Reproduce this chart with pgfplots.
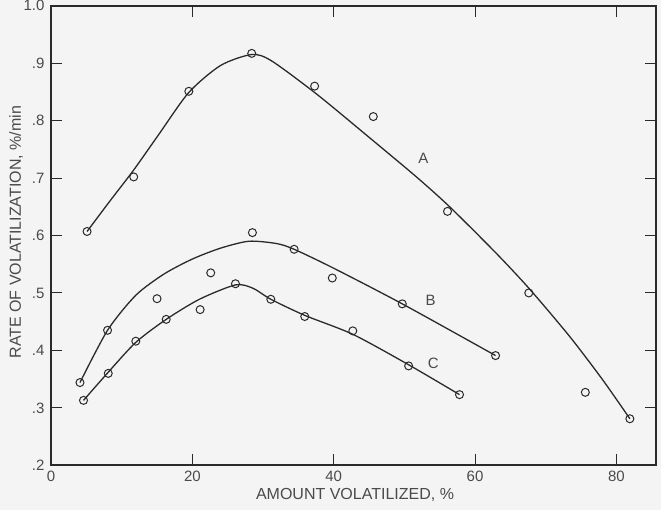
\documentclass[border=0pt]{standalone}
\usepackage{pgfplots}
\pgfplotsset{compat=1.18}
\usepackage{fontspec}
\setmainfont{Liberation Sans}
\usetikzlibrary{backgrounds}
\definecolor{bg}{HTML}{F4F4F4}
\definecolor{ink}{HTML}{2A2A2A}
\definecolor{txt}{HTML}{4A4A4A}
\begin{document}
\begin{tikzpicture}[background rectangle/.style={fill=bg,draw=none}, show background rectangle, inner frame sep=0pt]
\begin{axis}[
  scale only axis, width=605pt, height=459.6pt,
  xmin=0, xmax=85.6, ymin=0.2, ymax=1.0,
  xtick={0,20,40,60,80},
  ytick={0.2,0.3,0.4,0.5,0.6,0.7,0.8,0.9,1.0},
  yticklabels={.2,.3,.4,.5,.6,.7,.8,.9,1.0},
  tick align=inside, major tick length=11pt,
  axis line style={line width=1.8pt, ink},
  tick style={line width=1pt, ink},
  ticklabel style={font=\fontsize{15}{15}\selectfont, text=txt},
  /pgf/number format/assume math mode=true,
  xticklabel style={yshift=-2pt},
  yticklabel style={xshift=-3pt},
  clip=false,
]
% curves
\addplot[smooth, tension=0.45, ink, line width=1.3pt, no marks] coordinates {
 (5.1,0.607) (8.4,0.661) (11.7,0.714) (15.2,0.775) (19.5,0.849) (24,0.896)
 (28.4,0.915) (31.2,0.904) (37.6,0.846) (44.7,0.774) (51.7,0.702) (56.4,0.650)
 (63,0.569) (67.7,0.507) (73.4,0.424) (78.1,0.348) (81.9,0.281)};
\addplot[smooth, tension=0.45, ink, line width=1.3pt, no marks] coordinates {
 (4.1,0.344) (8.0,0.435) (12,0.496) (16,0.533) (20,0.559) (24,0.578) (28,0.590)
 (31.9,0.586) (34.4,0.576) (40,0.543) (49.7,0.481) (62.9,0.391)};
\addplot[smooth, tension=0.45, ink, line width=1.3pt, no marks] coordinates {
 (4.6,0.313) (8.1,0.362) (12,0.414) (16.3,0.454) (21,0.489) (26.1,0.514)
 (28.6,0.508) (31.1,0.489) (35.9,0.461) (42.7,0.428) (50.6,0.375) (57.8,0.323)};
% data points
\addplot[only marks, mark=o, mark size=4pt, ink, mark options={line width=1pt, fill=bg}] coordinates {
 (5.1,0.607) (11.7,0.702) (19.5,0.851) (28.4,0.917) (37.3,0.860) (45.6,0.807)
 (56.1,0.642) (67.6,0.500) (75.6,0.327) (81.9,0.281)};
\addplot[only marks, mark=o, mark size=4pt, ink, mark options={line width=1pt, fill=bg}] coordinates {
 (4.1,0.344) (8.0,0.435) (15.0,0.490) (22.6,0.535) (28.5,0.605) (34.4,0.576)
 (39.8,0.526) (49.7,0.481) (62.9,0.391)};
\addplot[only marks, mark=o, mark size=4pt, ink, mark options={line width=1pt, fill=bg}] coordinates {
 (4.6,0.313) (8.1,0.360) (12.0,0.416) (16.3,0.454) (21.1,0.471) (26.1,0.516)
 (31.1,0.489) (35.9,0.459) (42.7,0.434) (50.6,0.373) (57.8,0.323)};
\node[font=\fontsize{15}{15}\selectfont, text=txt] at (axis cs:52.7,0.735) {A};
\node[font=\fontsize{15}{15}\selectfont, text=txt] at (axis cs:53.7,0.487) {B};
\node[font=\fontsize{15}{15}\selectfont, text=txt] at (axis cs:54.1,0.377) {C};
\end{axis}
\node[font=\fontsize{16}{16}\selectfont, text=txt] at ([xshift=304pt,yshift=-30pt]current axis.south west) {AMOUNT VOLATILIZED, \%};
\node[font=\fontsize{16}{16}\selectfont, text=txt, rotate=90] at ([xshift=-35pt,yshift=233pt]current axis.south west) {RATE OF VOLATILIZATION, \%/min};
\pgfresetboundingbox
\path ([xshift=-51pt,yshift=-44.7pt]current axis.south west) rectangle ([xshift=5pt,yshift=5.7pt]current axis.north east);
\end{tikzpicture}
\end{document}
